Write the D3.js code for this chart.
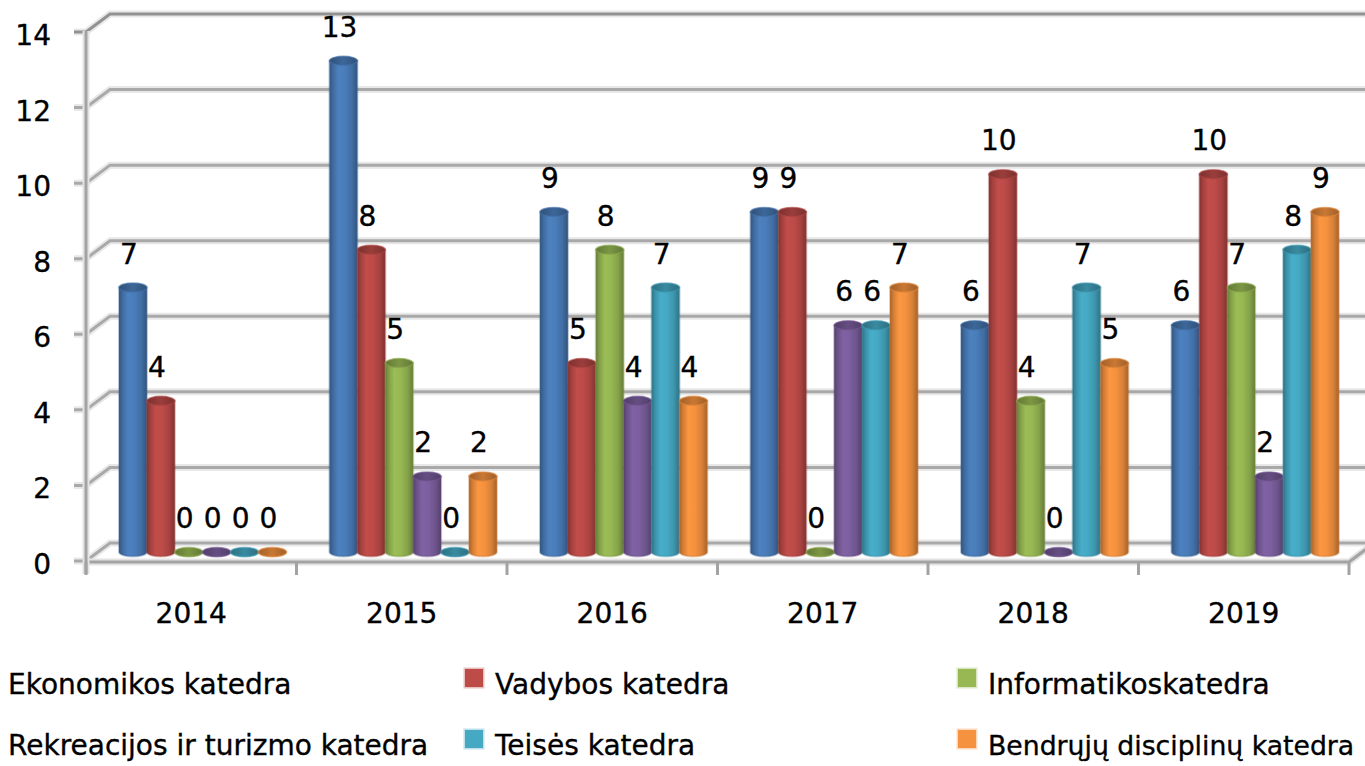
<!DOCTYPE html>
<html>
<head>
<meta charset="utf-8">
<script src="https://cdn.jsdelivr.net/npm/d3@7"></script>
<style>
html,body{margin:0;padding:0;background:#fff;overflow:hidden;}
svg{display:block;}
text{font-family:"DejaVu Sans",sans-serif;fill:#000;stroke:#000;stroke-width:0.35px;}
</style>
</head>
<body>
<svg id="chart" width="1365" height="766"></svg>
<script>
const years = ["2014","2015","2016","2017","2018","2019"];
const seriesNames = ["Ekonomikos katedra","Vadybos katedra","Informatikoskatedra","Rekreacijos ir turizmo katedra","Teisės katedra","Bendrųjų disciplinų katedra"];
const seriesColors = ["#4a7dba","#bd4b48","#97b853","#7c5f9f","#45a9c4","#f5923f"];
const ekonomikos   = [7,13,9,9,6,6];
const vadybos      = [4,8,5,9,10,10];
const informatikos = [0,5,8,0,4,7];
const rekreacijos  = [0,2,4,6,0,2];
const teises       = [0,0,7,6,7,8];
const bendruju     = [0,2,4,7,5,9];
const seriesValues = [ekonomikos,vadybos,informatikos,rekreacijos,teises,bendruju];
const yTicks = [0,2,4,6,8,10,12,14];

const svg = d3.select("#chart");
const W = 1365;
const axisX = 86, plotRight = 1349;
const depthDx = 24, depthDy = -18;

const y = d3.scaleLinear().domain([0,14]).range([561,32]);
const x = d3.scaleBand().domain(years).range([axisX, plotRight]).padding(0);
const xs = d3.scaleBand().domain(d3.range(6)).range([33, 33 + 6*27.9]).padding(0);

// gradients
const defs = svg.append("defs");
seriesColors.forEach((c,i)=>{
  const g = defs.append("linearGradient").attr("id","g"+i).attr("x1",0).attr("x2",1).attr("y1",0).attr("y2",0);
  const col = d3.color(c);
  [[0,col.darker(1.1)],[0.12,col.darker(0.45)],[0.32,col.brighter(0.08)],[0.55,col],[0.8,col.darker(0.35)],[1,col.darker(1.1)]]
    .forEach(([o,cc])=>g.append("stop").attr("offset",o).attr("stop-color",cc.formatHex()));
  const t = defs.append("linearGradient").attr("id","t"+i).attr("x1",0).attr("x2",1).attr("y1",0).attr("y2",0);
  [[0,col.darker(1.2)],[0.5,col.darker(0.55)],[1,col.darker(1.2)]]
    .forEach(([o,cc])=>t.append("stop").attr("offset",o).attr("stop-color",cc.formatHex()));
});

// gridlines (back wall) with depth diagonal and tick
const grid = svg.append("g");
yTicks.forEach(v=>{
  const yy = y(v);
  const d = `M${axisX-12},${yy}L${axisX},${yy}L${axisX+depthDx},${yy+depthDy}L${W+5},${yy+depthDy}`;
  grid.append("path").attr("d",d).attr("fill","none").attr("stroke","#e8e8e8").attr("stroke-width",7);
  grid.append("path").attr("d",d).attr("fill","none").attr("stroke", v===14 ? "#929292" : "#a9a9a9").attr("stroke-width",3);
});

// floor front edge + right depth edge
const floorY = y(0) + 1;
const floorD = `M${axisX},${floorY}L${plotRight},${floorY}L${plotRight+depthDx},${floorY+depthDy}`;
grid.append("path").attr("d",floorD).attr("fill","none").attr("stroke","#e3e3e3").attr("stroke-width",7);
grid.append("path").attr("d",floorD).attr("fill","none").attr("stroke","#a3a3a3").attr("stroke-width",3);
// vertical axis
grid.append("line").attr("x1",axisX).attr("x2",axisX).attr("y1",y(14)-1).attr("y2",floorY+12).attr("stroke","#e3e3e3").attr("stroke-width",7);
grid.append("line").attr("x1",axisX).attr("x2",axisX).attr("y1",y(14)-1).attr("y2",floorY+12).attr("stroke","#a3a3a3").attr("stroke-width",3);
// category ticks
const bounds = years.map(yr=>x(yr)).concat([plotRight]);
bounds.forEach(bx=>{
  grid.append("line").attr("x1",bx).attr("x2",bx).attr("y1",floorY).attr("y2",floorY+13).attr("stroke","#a3a3a3").attr("stroke-width",3);
});

// y labels
svg.append("g").selectAll("text").data(yTicks).join("text")
  .attr("x",51).attr("y",d=>y(d)+13).attr("text-anchor","end")
  .attr("font-size",28).text(d=>d);

// x labels
svg.append("g").selectAll("text").data(years).join("text")
  .attr("x",d=>x(d)+x.bandwidth()/2).attr("y",623).attr("text-anchor","middle")
  .attr("font-size",28).text(d=>d);

// bars (cylinders)
const rx = xs.bandwidth()/2, ry = 4.5;
const barBase = v => y(v) + depthDy/2;
const bars = svg.append("g");
const labels = svg.append("g");
years.forEach((yr,j)=>{
  seriesValues.forEach((vals,i)=>{
    const v = vals[j];
    const x0 = x(yr) + xs(i);
    const cx = x0 + rx;
    const yb = barBase(0), yt = barBase(v);
    const body = `M${x0},${yt}L${x0},${yb}A${rx},${ry} 0 0 0 ${x0+2*rx},${yb}L${x0+2*rx},${yt}Z`;
    bars.append("path").attr("d",body).attr("fill","url(#g"+i+")")
      .attr("stroke",d3.color(seriesColors[i]).darker(0.6).formatHex()).attr("stroke-opacity",0.35).attr("stroke-width",2);
    bars.append("ellipse").attr("cx",cx).attr("cy",yt).attr("rx",rx).attr("ry",ry)
      .attr("fill","url(#t"+i+")").attr("stroke",d3.color(seriesColors[i]).darker(0.3).formatHex()).attr("stroke-opacity",0.6).attr("stroke-width",1.5);
    labels.append("text").attr("x",cx-4).attr("y",yt-24).attr("text-anchor","middle")
      .attr("font-size",28).text(v);
  });
});

// legend
const legendCols = [8,495,988];
const legendRows = [694,755];
const legend = svg.append("g");
seriesNames.forEach((name,i)=>{
  const col = i%3, row = Math.floor(i/3);
  const tx = legendCols[col], ty = legendRows[row];
  legend.append("rect").attr("x",tx-30).attr("y",ty-25).attr("width",18).attr("height",18)
    .attr("fill",seriesColors[i]).attr("stroke",seriesColors[i]).attr("stroke-opacity",0.35).attr("stroke-width",3);
  const t = legend.append("text").attr("x",tx).attr("y",ty).attr("font-size",28).text(name);
  const w = t.node().getComputedTextLength();
  if (tx + w > W - 10) {
    t.attr("font-size", Math.floor(28 * (W - 10 - tx) / w * 10) / 10);
  }
});
</script>
</body>
</html>
